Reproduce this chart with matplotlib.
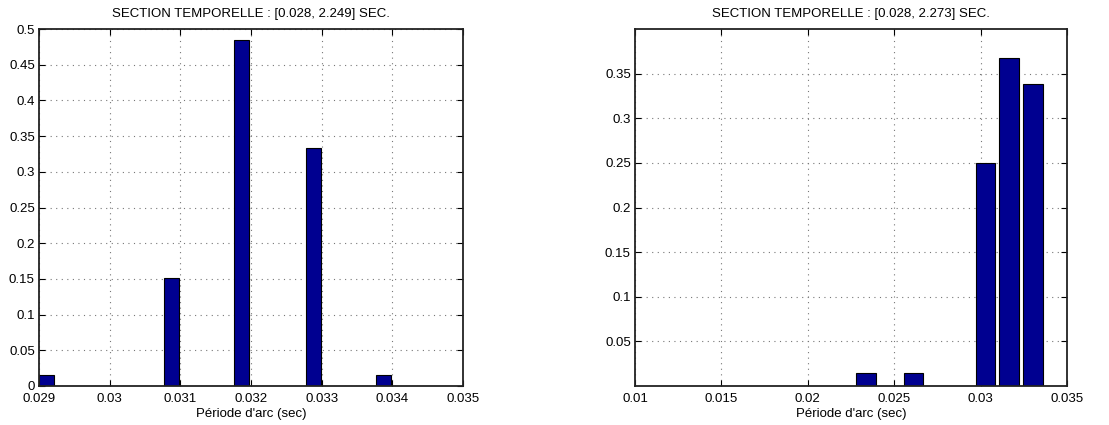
import matplotlib
matplotlib.use("Agg")
import matplotlib.pyplot as plt

plt.rcParams['font.family'] = ['Liberation Sans', 'DejaVu Sans']

# Left panel data
left_centers = [0.02911, 0.03087, 0.03187, 0.03288, 0.03387]
left_values = [1/66, 10/66, 32/66, 22/66, 1/66]
left_width = 0.00021
left_title = "SECTION TEMPORELLE : [0.028, 2.249] SEC."
left_xticks = [0.029, 0.030, 0.031, 0.032, 0.033, 0.034, 0.035]
left_xticklabels = ["0.029", "0.03", "0.031", "0.032", "0.033", "0.034", "0.035"]
left_yticks = [0, 0.05, 0.1, 0.15, 0.2, 0.25, 0.3, 0.35, 0.4, 0.45, 0.5]
left_yticklabels = ["0", "0.05", "0.1", "0.15", "0.2", "0.25", "0.3", "0.35", "0.4", "0.45", "0.5"]

# Right panel data
right_centers = [0.02337, 0.02613, 0.03027, 0.03165, 0.03303]
right_values = [1/68, 1/68, 17/68, 25/68, 23/68]
right_width = 0.00112
right_title = "SECTION TEMPORELLE : [0.028, 2.273] SEC."
right_xticks = [0.010, 0.015, 0.020, 0.025, 0.030, 0.035]
right_xticklabels = ["0.01", "0.015", "0.02", "0.025", "0.03", "0.035"]
right_yticks = [0.05, 0.1, 0.15, 0.2, 0.25, 0.3, 0.35]
right_yticklabels = ["0.05", "0.1", "0.15", "0.2", "0.25", "0.3", "0.35"]

xlabel = "Période d'arc (sec)"
bar_color = "#000090"
fs = 9.5

fig = plt.figure(figsize=(11.09, 4.25), dpi=100)
ax1 = fig.add_axes([39/1109, 39/425, 424/1109, 357/425])
ax2 = fig.add_axes([635/1109, 39/425, 432/1109, 357/425])

def style(ax, centers, values, width, title, xt, xtl, yt, ytl, xlim, ylim):
    ax.bar(centers, values, width=width, color=bar_color, edgecolor="black",
           linewidth=0.8, zorder=3)
    ax.set_xlim(*xlim)
    ax.set_ylim(*ylim)
    ax.set_xticks(xt)
    ax.set_xticklabels(xtl, fontsize=fs)
    ax.set_yticks(yt)
    ax.set_yticklabels(ytl, fontsize=fs)
    ax.set_title(title, fontsize=fs, pad=9)
    ax.set_xlabel(xlabel, fontsize=fs, labelpad=2)
    ax.grid(True, linestyle=(0, (1, 4)), color="#777777", linewidth=0.8, zorder=0)
    ax.tick_params(axis="y", direction="in", right=True, length=4, width=0.8,
                   pad=3, colors="black")
    ax.tick_params(axis="x", direction="in", top=True, length=4, width=0.8,
                   pad=5, colors="black")
    for s in ax.spines.values():
        s.set_linewidth(1.3)
        s.set_color("#222222")
        s.set_zorder(4)

style(ax1, left_centers, left_values, left_width, left_title, left_xticks,
      left_xticklabels, left_yticks, left_yticklabels, (0.029, 0.035), (0, 0.5))
style(ax2, right_centers, right_values, right_width, right_title, right_xticks,
      right_xticklabels, right_yticks, right_yticklabels, (0.01, 0.035), (0, 0.4))

fig.savefig("out.png", dpi=100)
